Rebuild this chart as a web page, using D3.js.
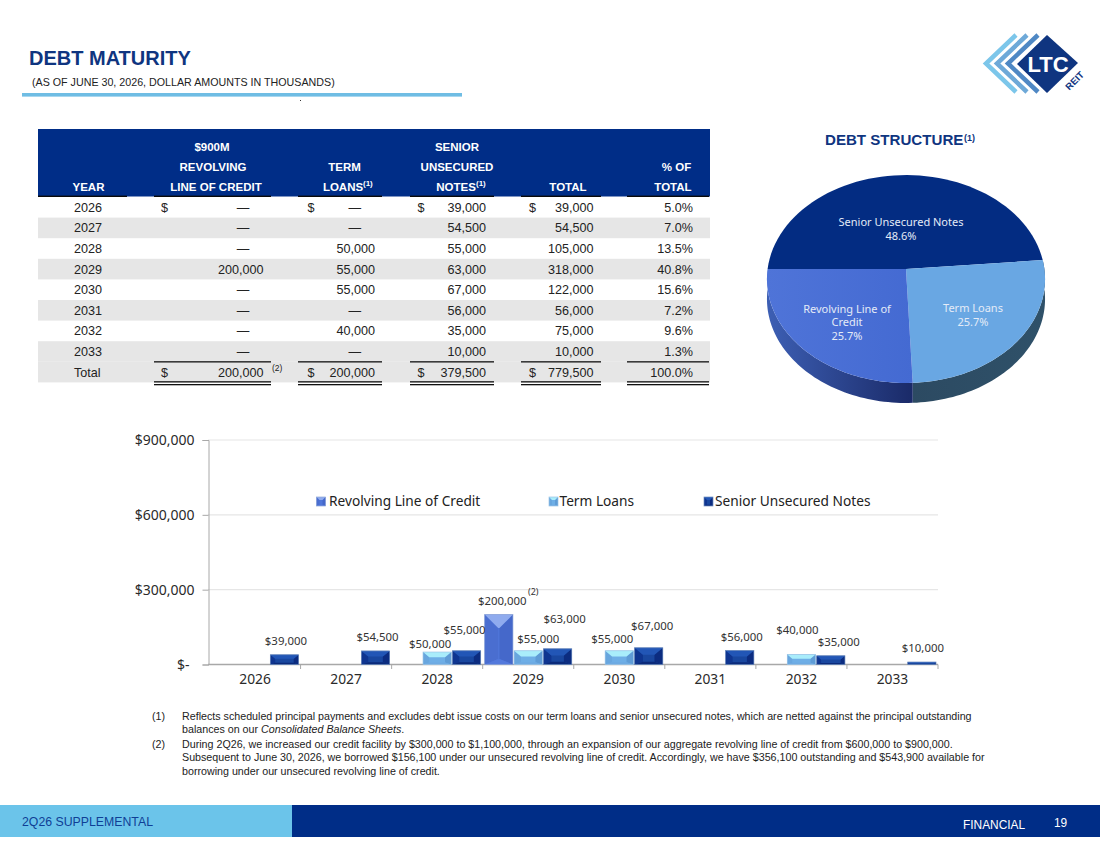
<!DOCTYPE html>
<html><head><meta charset="utf-8">
<script src="https://cdn.jsdelivr.net/npm/d3@7"></script>
<style>html,body{margin:0;padding:0;background:#fff;overflow:hidden}svg{display:block}
.a{font-family:"Liberation Sans",Arial,sans-serif}.n{font-family:"Noto Sans",sans-serif}</style>
</head><body><svg id="c" width="1100" height="849"></svg>
<script>
// ---------- DATA ----------
const years = ["2026","2027","2028","2029","2030","2031","2032","2033"];
const seriesNames = ["Revolving Line of Credit","Term Loans","Senior Unsecured Notes"];
const revolving = [0,0,0,200000,0,0,0,0];
const termLoans = [0,0,50000,55000,55000,0,40000,0];
const seniorNotes = [39000,54500,55000,63000,67000,56000,35000,10000];
const totals = [39000,54500,105000,318000,122000,56000,75000,10000];
const pctOfTotal = ["5.0%","7.0%","13.5%","40.8%","15.6%","7.2%","9.6%","1.3%"];
const totalRow = [200000,200000,379500,779500];
const totalPct = "100.0%";
const yTicks = [0,300000,600000,900000];
const pieNames = ["Senior Unsecured Notes","Term Loans","Revolving Line of Credit"];
const pieShares = [48.6,25.7,25.7];
const footnotes = [
 ["(1)",["Reflects scheduled principal payments and excludes debt issue costs on our term loans and senior unsecured notes, which are netted against the principal outstanding",
  "balances on our |Consolidated Balance Sheets|."]],
 ["(2)",["During 2Q26, we increased our credit facility by $300,000 to $1,100,000, through an expansion of our aggregate revolving line of credit from $600,000 to $900,000.",
  "Subsequent to June 30, 2026, we borrowed $156,100 under our unsecured revolving line of credit. Accordingly, we have $356,100 outstanding and $543,900 available for",
  "borrowing under our unsecured revolving line of credit."]]
];
// ---------- LAYOUT (label nudges, separate from the data) ----------
const labelNudge = {"0-2":[1.5,-14],"1-2":[2,-14],"2-1":[-7,-8],"2-2":[-2,-21],"3-0":[3.5,-13.5],"3-1":[10,-12],"3-2":[7,-30],"4-1":[-7,-12],"4-2":[3.5,-22],"5-2":[2,-14],"6-1":[-4,-25],"6-2":[8,-14],"7-2":[1,-14]};
const styles = [
 {top:"#8fabee",left:"#4a6ed0",right:"#4568ca",bottom:"#5379dc",mid:"#4f76da",edge:"#8fa6d8"},
 {top:"#a9edfb",left:"#68a6de",right:"#5f9cd6",bottom:"#6eaae2",mid:"#6eaee6",edge:"#9cc4e6"},
 {top:"#2256b6",left:"#0f3590",right:"#0c2c80",bottom:"#0b2a7a",mid:"#19479f",edge:"#6f8dbd"}
];
const navy="#0f3580", ink="#2a2a2a";
const svg=d3.select("#c");
const txt=(p,x,y,s,o={})=>{const t=p.append("text").attr("x",x).attr("y",y).attr("class",o.cls||"a")
 .attr("font-size",o.size||13).attr("fill",o.fill||ink).attr("text-anchor",o.anchor||"start")
 .attr("font-weight",o.weight||"normal").text(s);if(o.ls)t.attr("letter-spacing",o.ls);return t;};
const fmt=d3.format(",");

// ---------- HEADER ----------
txt(svg,29,65,"DEBT MATURITY",{size:20,weight:"bold",fill:navy});
txt(svg,32,86,"(AS OF JUNE 30, 2026, DOLLAR AMOUNTS IN THOUSANDS)",{size:10.7,fill:"#222"});
svg.append("rect").attr("x",22).attr("y",93).attr("width",440).attr("height",3.6).attr("fill","#6fbde4");
svg.append("rect").attr("x",300).attr("y",100).attr("width",1).attr("height",1).attr("fill","#333");

// Logo
const logo=svg.append("g");
[[1016,"#7cc6ea"],[1027,"#6ea9d8"],[1038,"#4f88c4"]].forEach(([x,c])=>{
 logo.append("path").attr("d",`M${x},35 L${x-30},63.5 L${x},92`).attr("fill","none").attr("stroke",c).attr("stroke-width",4.5);});
logo.append("path").attr("d","M1047,35 L1078,63 L1047,93 L1017,64 Z").attr("fill","#0f3580");
txt(logo,1048,72,"LTC",{size:22,weight:"bold",fill:"#fff",anchor:"middle"});
txt(logo,0,0,"REIT",{size:9.5,weight:"bold",fill:"#0f3580",anchor:"middle"}).attr("transform","translate(1077,83) rotate(-45)");

// ---------- TABLE ----------
const T=svg.append("g");
T.append("rect").attr("x",38).attr("y",129).attr("width",672).attr("height",67.5).attr("fill","#002d87");
const hs={size:11.5,weight:"bold",fill:"#fff",anchor:"middle"};
[["$900M",212,151],["REVOLVING",213,171],["LINE OF CREDIT",216,191],["TERM",344.5,171],["SENIOR",457,151],["UNSECURED",457,171],["TOTAL",568,191],["% OF",676.5,171],["TOTAL",673,191],["YEAR",88.5,191]]
 .forEach(h=>txt(T,h[1],h[2],h[0],hs));
[["LOANS",343],["NOTES",456]].forEach(([s,x])=>{
 txt(T,x,191,s,hs);
 txt(T,x+20,186,"(1)",{size:8,weight:"bold",fill:"#fff"});
});
const colSpans=[[38,127],[154,271],[298,382],[410,494],[521,601],[627,709]];
colSpans.forEach(s=>T.append("rect").attr("x",s[0]).attr("y",195.6).attr("width",s[1]-s[0]).attr("height",1.4).attr("fill","#0a0a0a"));
const rowY=d3.scaleBand().domain(d3.range(9)).range([197,382.4]);
[1,3,5,7,8].forEach(i=>T.append("rect").attr("x",38).attr("y",rowY(i)).attr("width",672).attr("height",rowY.bandwidth()).attr("fill","#e6e6e6"));
const colR=[263.5,375,486,593.5], colDash=[243,354.7], colDollar=[161,307.5,417.5,529];
const tcell=(x,i,s,anchor)=>txt(T,x,rowY(i)+rowY.bandwidth()/2+4.5,s,{size:12.6,anchor,fill:"#222"});
years.forEach((y,i)=>{
 tcell(74,i,y,"start");
 [revolving,termLoans,seniorNotes,totals].forEach((arr,c)=>{
  const v=arr[i];
  if(v) tcell(colR[c],i,fmt(v),"end"); else tcell(colDash[c],i,"—","middle");
 });
 tcell(693,i,pctOfTotal[i],"end");
 if(i===0) colDollar.forEach(x=>tcell(x,0,"$","start"));
});
tcell(74,8,"Total","start");
totalRow.forEach((v,c)=>{tcell(colR[c],8,fmt(v),"end");tcell(colDollar[c],8,"$","start");});
tcell(693,8,totalPct,"end");
txt(T,272,371,"(2)",{size:8.5,fill:"#222"});
colSpans.slice(1).forEach(s=>{
 const w=s[1]-s[0];
 T.append("rect").attr("x",s[0]).attr("y",361.2).attr("width",w).attr("height",1.3).attr("fill","#111");
 T.append("rect").attr("x",s[0]).attr("y",381.2).attr("width",w).attr("height",1.3).attr("fill","#111");
 T.append("rect").attr("x",s[0]).attr("y",384).attr("width",w).attr("height",1.3).attr("fill","#111");
});

// ---------- PIE ----------
const P=svg.append("g");
txt(P,825,145,"DEBT STRUCTURE",{size:15.1,weight:"bold",fill:navy});
txt(P,964,141,"(1)",{size:9,weight:"bold",fill:navy});
const defs=svg.append("defs");
const grad=(id,a,b)=>{const g=defs.append("linearGradient").attr("id",id).attr("x1",0).attr("x2",1).attr("y1",0).attr("y2",0);
 g.append("stop").attr("offset",0).attr("stop-color",a);g.append("stop").attr("offset",1).attr("stop-color",b);};
grad("wallRev","#3d5fb4","#1a2a68");grad("wallTerm","#2c4a62","#2f5169");grad("faceRev","#4f74d8","#446ad2");
const cx=906,cy=269,Rx=138.4,Ry=103,k=0.0963,depth=20;
const proj=(a,r=1,dy=0)=>{const u=Math.sin(a)*r,v=-Math.cos(a)*r,d=1-k*v;return [cx+Rx*u/d,cy+Ry*v/d+dy];};
const pieGen=d3.pie().sort(null).startAngle(-Math.PI/2).endAngle(1.5*Math.PI);
const arcs=pieGen(pieShares);
const faceColors=["#032c82","#69a7e3","url(#faceRev)"];
const wallColors=[null,"url(#wallTerm)","url(#wallRev)"];
const line=d3.line();
const samples=(a,b)=>d3.range(0,61).map(i=>a+(b-a)*i/60);
arcs.forEach((s,i)=>{ if(!wallColors[i]) return;
 const a=Math.max(s.startAngle,Math.PI*0.47), b=Math.min(s.endAngle,Math.PI*1.5);
 const pts=samples(a,b).map(t=>proj(t)).concat(samples(a,b).reverse().map(t=>proj(t,1,depth)));
 P.append("path").attr("d",line(pts)+"Z").attr("fill",wallColors[i]);
});
arcs.forEach((s,i)=>{
 const pts=[[cx,cy]].concat(samples(s.startAngle,s.endAngle).map(t=>proj(t)));
 P.append("path").attr("d",line(pts)+"Z").attr("fill",faceColors[i]);
});
const pieLbl=[[901,[["Senior Unsecured Notes",226],["48.6%",240]]],[973,[["Term Loans",312],["25.7%",326]]],[847,[["Revolving Line of",313],["Credit",326],["25.7%",340]]]];
pieLbl.forEach(([x,ls])=>ls.forEach(([s,y])=>txt(P,x,y,s,{cls:"n",size:11,fill:"#e4ebf7",anchor:"middle"})));

// ---------- BAR CHART ----------
const C=svg.append("g");
const x0=d3.scaleBand().domain(years).range([209.5,938]);
const x1=d3.scaleBand().domain(d3.range(3)).range([2,x0.bandwidth()-2]).paddingInner(.04);
const y=d3.scaleLinear().domain([0,900000]).range([664.5,440]);
yTicks.slice(1).forEach(t=>C.append("line").attr("x1",208).attr("x2",938).attr("y1",y(t)).attr("y2",y(t)).attr("stroke","#e6e6e6").attr("stroke-width",1.2));
const yAxis=d3.axisLeft(y).tickValues(yTicks).tickSize(6).tickPadding(8).tickFormat(d=>d===0?"$-":"$"+fmt(d));
const ya=C.append("g").attr("transform","translate(208.5,0)").call(yAxis);
ya.selectAll("path,line").attr("stroke","#a8a8a8");
ya.selectAll("text").attr("class","n").attr("font-size",14).attr("fill",ink).attr("dy","0.34em")
  .attr("dx",d=>d===0?-5:0);
const xAxis=d3.axisBottom(x0).tickSize(0).tickPadding(10);
const xa=C.append("g").attr("transform","translate(0,664.5)").call(xAxis);
xa.select("path").attr("stroke","#a8a8a8").attr("stroke-width",1.4).attr("d","M208,0H938");
xa.selectAll("text").attr("class","n").attr("font-size",13.8).attr("fill",ink);
years.forEach(d=>C.append("line").attr("x1",x0(d)+x0.bandwidth()).attr("x2",x0(d)+x0.bandwidth()).attr("y1",664.5).attr("y2",669).attr("stroke","#a8a8a8"));
function bevel(g,x,yy,w,h,st,cap){
 const b=Math.min(cap,h*.42), hx=Math.min(w/2,Math.max(b,Math.min(cap,h*.5)));
 const p=(pts,f)=>g.append("path").attr("d",line(pts)+"Z").attr("fill",f);
 const r=x+w,e=yy+h;
 p([[x,yy],[r,yy],[r,e],[x,e]],st.mid);
 p([[x,yy],[x+hx,yy+b],[x+hx,e-b*.4],[x,e]],st.left);
 p([[r,yy],[r-hx,yy+b],[r-hx,e-b*.4],[r,e]],st.right);
 p([[x,e],[x+hx,e-b*.4],[r-hx,e-b*.4],[r,e]],st.bottom);
 p([[x,yy],[r,yy],[r-hx,yy+b],[x+hx,yy+b]],st.top);
 g.append("rect").attr("x",x).attr("y",yy).attr("width",w).attr("height",h).attr("fill","none").attr("stroke",st.edge).attr("stroke-width",.7);
}
[revolving,termLoans,seniorNotes].forEach((arr,si)=>{
 arr.forEach((v,i)=>{ if(!v) return;
  const bx=x0(years[i])+x1(si), by=y(v), bw=x1.bandwidth();
  bevel(C.append("g"),bx,by,bw,y(0)-by,styles[si],13.5);
  const n=labelNudge[i+"-"+si];
  txt(C,bx+bw/2+n[0],by+n[1]+4,"$"+fmt(v),{cls:"n",size:11.4,anchor:"middle",fill:"#333"});
 });
});
txt(C,528,595,"(2)",{cls:"n",size:9,fill:"#333"});
// Legend
[[316.5,329],[549,559.5],[704,715]].forEach(([sx,tx],i)=>{
 bevel(C.append("g"),sx,497,9,9,styles[i],3);
 txt(C,tx,506,seriesNames[i],{cls:"n",size:13.7,fill:"#222"});
});

// ---------- FOOTNOTES ----------
const F=svg.append("g");
const fy=[[719.5,732.5],[747.5,761,774.5]];
footnotes.forEach(([m,ls],i)=>{
 txt(F,152,fy[i][0],m,{size:10.7,fill:"#222"});
 ls.forEach((l,j)=>{
  const t=txt(F,182,fy[i][j],"",{size:10.7,fill:"#222"});
  l.split("|").forEach((part,q)=>t.append("tspan").attr("font-style",q%2?"italic":"normal").text(part));
 });
});

// ---------- FOOTER ----------
svg.append("rect").attr("x",0).attr("y",805).attr("width",292).attr("height",32).attr("fill","#6bc4ea");
svg.append("rect").attr("x",292).attr("y",805).attr("width",808).attr("height",32).attr("fill","#002d87");
txt(svg,22,826,"2Q26 SUPPLEMENTAL",{size:12.3,fill:"#0f3f96"});
txt(svg,963,829,"FINANCIAL",{size:11.9,fill:"#fff"});
txt(svg,1054,827,"19",{size:11.9,fill:"#fff"});
</script></body></html>
